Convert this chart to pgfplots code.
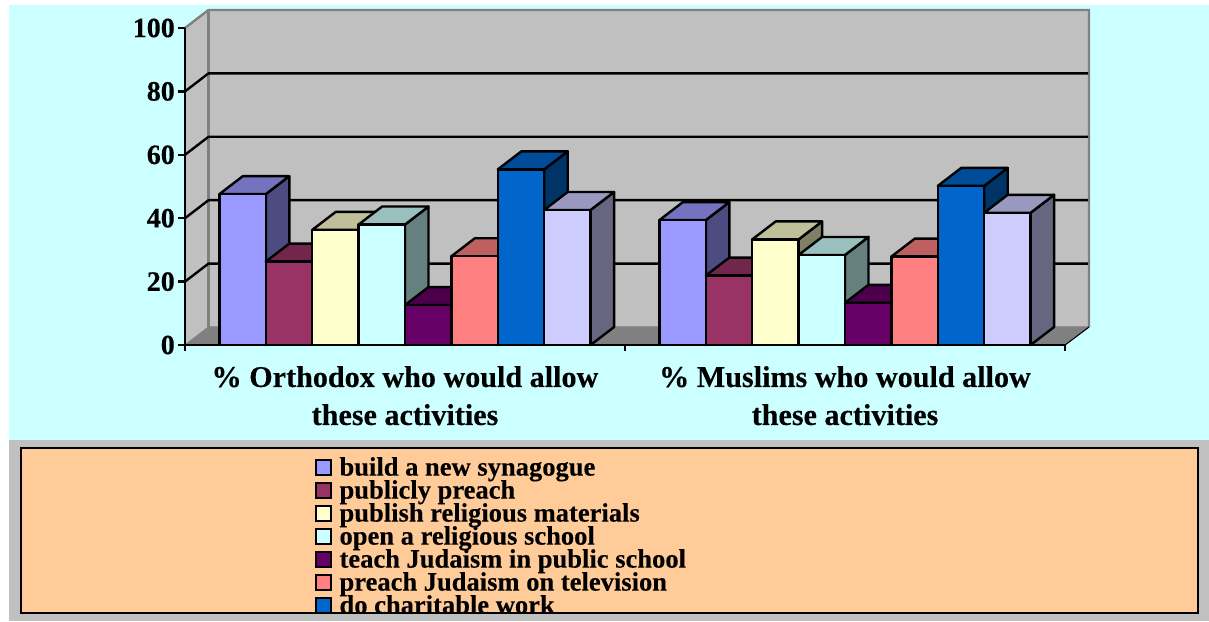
\documentclass[border=0pt]{standalone}
\usepackage{fontspec}
\setmainfont{Liberation Serif}[BoldFeatures={FakeBold=0.3}]
\usepackage{pgfplots}
\pgfplotsset{compat=1.18}

\definecolor{cA}{HTML}{9999FF}
\definecolor{cB}{HTML}{993366}
\definecolor{cC}{HTML}{FFFFCC}
\definecolor{cD}{HTML}{CCFFFF}
\definecolor{cE}{HTML}{660066}
\definecolor{cF}{HTML}{FF8080}
\definecolor{cG}{HTML}{0066CC}
\definecolor{cH}{HTML}{CCCCFF}
\definecolor{panel}{HTML}{C0C0C0}
\definecolor{floorc}{HTML}{808080}
\definecolor{orangebox}{HTML}{FFCC99}

% x is in reference pixels, depth of the 3D box is 23.5 px / 5.68 units
% \cube{centre x}{value}{colour}
\newcommand{\cube}[3]{%
  \pgfmathsetmacro\xa{#1+23.2}%
  \pgfmathsetmacro\xb{#1+46.7}%
  \pgfmathsetmacro\xc{#1-23.2}%
  \pgfmathsetmacro\xd{#1+0.3}%
  \pgfmathsetmacro\ya{#2+5.68}%
  \edef\tmp{%
    \noexpand\addplot[forget plot,fill=#3!50!black,draw=black,line width=1.8pt,line join=round]
      coordinates {(\xa,0) (\xb,5.68) (\xb,\ya) (\xa,#2)} --cycle;
    \noexpand\addplot[forget plot,fill=#3!75!black,draw=black,line width=1.8pt,line join=round]
      coordinates {(\xc,#2) (\xd,\ya) (\xb,\ya) (\xa,#2)} --cycle;
    \noexpand\addplot[forget plot,ybar,bar shift=0pt,bar width=34.8pt,fill=#3,draw=black,line width=1.8pt,line join=round]
      coordinates {(#1,#2)};
  }\tmp}

\begin{document}
\begin{tikzpicture}
\path[use as bounding box] (0,0) rectangle (906.75pt,465.75pt);
\begin{scope}[x=0.75pt,y=-0.75pt,yshift=465.75pt]
  \fill[white] (0,0) rectangle (1209,621);
  \fill[cD] (9,5) rectangle (1209,440);
  \fill[panel] (9,440) rectangle (1209,621);
  \fill[orangebox] (21,448) rectangle (1198,613);
\end{scope}
\begin{axis}[
    at={(138.75pt,207pt)}, anchor=south west,
    scale only axis, width=660pt, height=237.75pt,
    xmin=185, xmax=1065, ymin=0, ymax=100,
    clip=false, axis on top=true,
    axis x line=bottom, axis y line=left,
    axis line style={-, line width=1.8pt},
    font=\bfseries,
    /pgf/number format/assume math mode=true,
    tick align=outside,
    major tick length=5.25pt, minor tick length=4.5pt,
    ytick={0,20,...,100},
    yticklabel style={font=\fontsize{21}{21}\bfseries, inner sep=2.2pt},
    ytick style={line width=1.8pt, black},
    xtick={405,845},
    xticklabels={\% Orthodox who would allow\\these activities,\% Muslims who would allow\\these activities},
    xticklabel style={font=\fontsize{22.6}{28.5}\bfseries, align=flush center, text width=400pt, yshift=-7pt},
    major x tick style={draw=none},
    minor xtick={185,625,1065},
    minor x tick style={line width=1.8pt, black},
    legend image code/.code={\draw[#1] (1pt,-4.75pt) rectangle (12pt,6.25pt);},
    legend cell align=left,
    legend style={at={(axis cs:315,-35.3)}, anchor=north west, draw=none, fill=none,
      inner sep=0pt, outer sep=0pt, font=\fontsize{19.9}{19.9}\bfseries,
      row sep=0pt, column sep=0pt,
      /tikz/every odd column/.append style={column sep=5.6pt},
      nodes={inner sep=0pt, text height=14pt, text depth=3.25pt}},
]
% walls and floor
\addplot[forget plot,fill=panel,draw=none] coordinates {(185,0) (208.5,5.68) (208.5,105.68) (185,100)} --cycle;
\addplot[forget plot,fill=panel,draw=none] coordinates {(208.5,5.68) (1089,5.68) (1089,105.68) (208.5,105.68)} --cycle;
\addplot[forget plot,fill=floorc,draw=floorc,line width=0.75pt] coordinates {(185,0) (208.5,5.68) (1089,5.68) (1065,0)} --cycle;
\addplot[forget plot,draw=floorc,line width=1.8pt] coordinates {(185,100) (208.5,105.68) (1089,105.68) (1089,5.68)};
\addplot[forget plot,draw=floorc,line width=1.8pt] coordinates {(208.5,105.68) (208.5,5.68)};
\addplot[forget plot,draw=black,line width=0.75pt] coordinates {(1065,0) (1089,5.68)};
% grid lines
\addplot[forget plot,draw=black,line width=1.8pt] coordinates {(185,20) (208.5,25.68) (1088,25.68)};
\addplot[forget plot,draw=black,line width=1.8pt] coordinates {(185,40) (208.5,45.68) (1088,45.68)};
\addplot[forget plot,draw=black,line width=1.8pt] coordinates {(185,60) (208.5,65.68) (1088,65.68)};
\addplot[forget plot,draw=black,line width=1.8pt] coordinates {(185,80) (208.5,85.68) (1088,85.68)};
% % Orthodox
\cube{242.6}{47.6}{cA}
\cube{289.0}{26.3}{cB}
\cube{335.4}{36.3}{cC}
\cube{381.8}{38.0}{cD}
\cube{428.2}{12.6}{cE}
\cube{474.6}{28.0}{cF}
\cube{521.0}{55.4}{cG}
\cube{567.4}{42.6}{cH}
% % Muslims
\cube{682.6}{39.4}{cA}
\cube{729.0}{21.9}{cB}
\cube{775.4}{33.3}{cC}
\cube{821.8}{28.4}{cD}
\cube{868.2}{13.3}{cE}
\cube{914.6}{27.9}{cF}
\cube{961.0}{50.2}{cG}
\cube{1007.4}{41.7}{cH}
% legend, the eighth entry is cut off in the original
\addlegendimage{fill=cA,draw=black,line width=1.8pt}\addlegendentry{build a new synagogue}
\addlegendimage{fill=cB,draw=black,line width=1.8pt}\addlegendentry{publicly preach}
\addlegendimage{fill=cC,draw=black,line width=1.8pt}\addlegendentry{publish religious materials}
\addlegendimage{fill=cD,draw=black,line width=1.8pt}\addlegendentry{open a religious school}
\addlegendimage{fill=cE,draw=black,line width=1.8pt}\addlegendentry{teach Judaism in public school}
\addlegendimage{fill=cF,draw=black,line width=1.8pt}\addlegendentry{preach Judaism on television}
\addlegendimage{fill=cG,draw=black,line width=1.8pt}\addlegendentry{do charitable work}
\end{axis}
\begin{scope}[x=0.75pt,y=-0.75pt,yshift=465.75pt]
  \fill[panel] (9,613) rectangle (1209,621);
  \draw[black,line width=1.8pt] (21,448) rectangle (1198,613);
\end{scope}
\end{tikzpicture}
\end{document}
